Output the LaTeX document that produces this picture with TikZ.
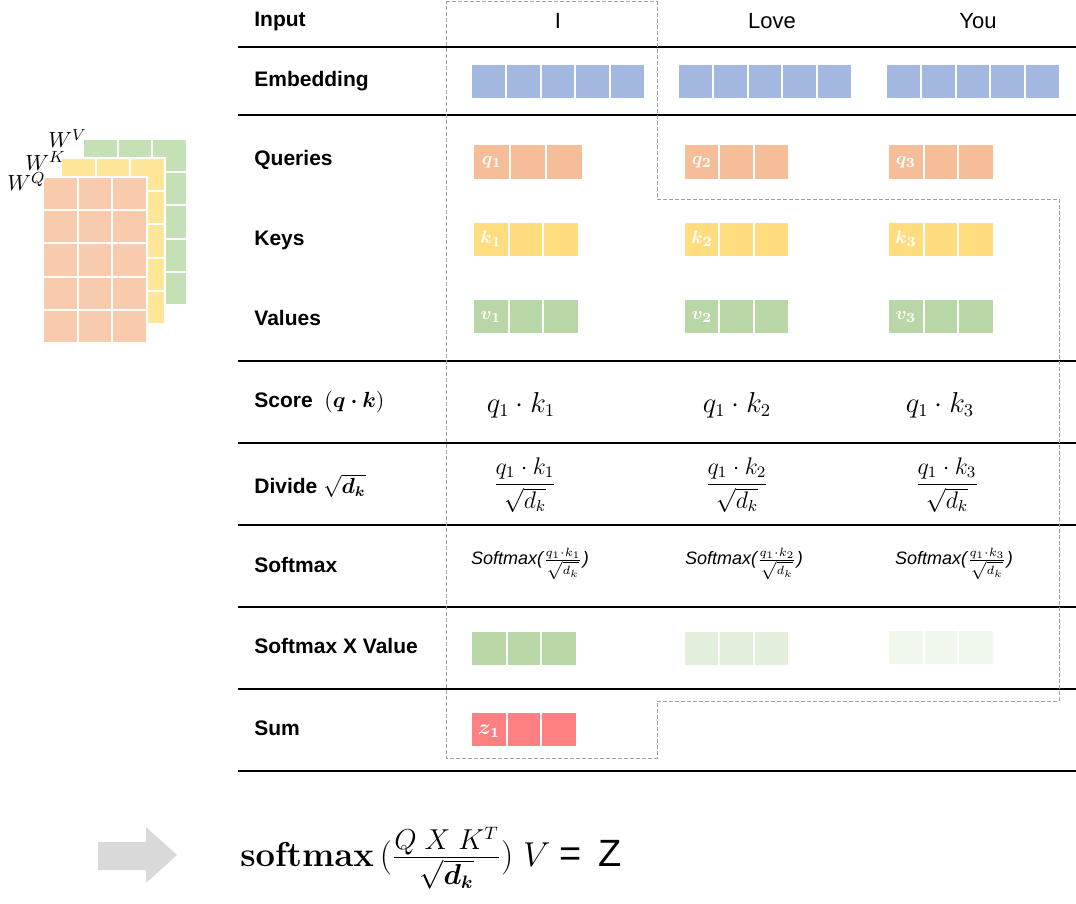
\documentclass[tikz,border=0pt]{standalone}
\usepackage[no-math]{fontspec}
\usepackage{amsmath}
\usepackage{bm}
\setmainfont{Liberation Sans}
\definecolor{emb}{RGB}{163,184,224}
\definecolor{qcol}{RGB}{245,189,152}
\definecolor{kcol}{RGB}{255,220,126}
\definecolor{vcol}{RGB}{185,214,166}
\definecolor{vcolb}{RGB}{226,239,218}
\definecolor{vcolc}{RGB}{240,247,236}
\definecolor{zcol}{RGB}{255,128,128}
\definecolor{wq}{RGB}{248,203,173}
\definecolor{wk}{RGB}{255,230,153}
\definecolor{wv}{RGB}{197,224,180}
\definecolor{arr}{RGB}{217,217,217}
\definecolor{dashgray}{RGB}{160,160,160}
\newcommand{\cellrow}[6]{%
  \fill[#6] (#1,#2) rectangle (#3,#4);
  \pgfmathtruncatemacro{\nm}{#5-1}
  \foreach \i in {1,...,\nm}{\draw[white,line width=1pt] ({#1+\i*(#3-#1)/#5},#2) -- ({#1+\i*(#3-#1)/#5},#4);}
}
\newcommand{\wmat}[3]{% x0 y0 color ; 3 cols x 5 rows, 104 x 166 px
  \filldraw[fill=#3,draw=white,line width=1pt] (#1,#2) rectangle ({#1+104},{#2+166});
  \foreach \i in {1,2}{\draw[white,line width=1pt] ({#1+\i*104/3},#2) -- ({#1+\i*104/3},{#2+166});}
  \foreach \j in {1,...,4}{\draw[white,line width=1pt] (#1,{#2+\j*166/5}) -- ({#1+104},{#2+\j*166/5});}
}
\tikzset{
  lab/.style={anchor=west,inner sep=0pt,font=\bfseries\fontsize{10.5}{12}\selectfont},
  word/.style={inner sep=0pt,font=\fontsize{11}{13}\selectfont},
  mth/.style={inner sep=0pt,font=\fontsize{12}{14}\selectfont},
  mthb/.style={inner sep=0pt,font=\fontsize{13.5}{15}\selectfont},
  smx/.style={inner sep=0pt,font=\itshape\fontsize{9}{10}\selectfont},
  cl/.style={inner sep=0pt,text=white,font=\fontsize{9.5}{10}\selectfont},
  wl/.style={inner sep=0pt,anchor=base west,font=\fontsize{11}{13}\selectfont},
  rule/.style={black,line width=0.7pt},
  outline/.style={dashgray,line width=0.5pt,dash pattern=on 2pt off 1pt},
}
\begin{document}
\begin{tikzpicture}[x=0.5pt,y=-0.5pt]
\useasboundingbox (0,0) rectangle (1076,904);
% left matrices
\wmat{83}{139}{wv}
\wmat{61}{158}{wk}
\wmat{43}{177}{wq}
\node[wl] (lv) at (48,148) {$W^V$};
\node[wl] (lk) at (25,170) {$W^K$};
\node[wl] (lq) at (7,191) {$W^Q$};
% table rules
\foreach \yy in {47,115,361,443,525,607,689,771}{\draw[rule] (238,\yy) -- (1076,\yy);}
% dashed outline
\draw[outline] (446,2) -- (657,2) -- (657,199) -- (1059,199) -- (1059,701) -- (657,701) -- (657,758) -- (446,758) -- cycle;
% row labels
\node[lab] (rinput) at (254,21) {Input};
\node[lab] (remb) at (254,81) {Embedding};
\node[lab] (rq) at (254,160) {Queries};
\node[lab] (rk) at (254,240) {Keys};
\node[lab] (rv) at (254,318) {Values};
\node[lab] (rscore) at (254,402) {Score \ $(\bm{q\cdot k})$};
\node[lab] (rdiv) at (254,486) {Divide $\sqrt{\bm{d_k}}$};
\node[lab] (rsm) at (254,565) {Softmax};
\node[lab] (rsmv) at (254,646) {Softmax X Value};
\node[lab] (rsum) at (254,728) {Sum};
% inputs
\node[word] (w1) at (558,21) {I};
\node[word] (w2) at (772,21) {Love};
\node[word] (w3) at (978,21) {You};
% embeddings
\cellrow{472}{65}{644}{98}{5}{emb}
\cellrow{679}{65}{851}{98}{5}{emb}
\cellrow{887}{65}{1059}{98}{5}{emb}
% queries
\cellrow{474}{145}{582}{179}{3}{qcol}
\cellrow{685}{145}{788}{179}{3}{qcol}
\cellrow{889}{145}{993}{179}{3}{qcol}
\node[cl] (q1) at (492,162) {$\bm{q_1}$};
\node[cl] (q2) at (702,162) {$\bm{q_2}$};
\node[cl] (q3) at (906,162) {$\bm{q_3}$};
% keys
\cellrow{474}{223}{578}{256}{3}{kcol}
\cellrow{685}{223}{788}{256}{3}{kcol}
\cellrow{889}{223}{993}{256}{3}{kcol}
\node[cl] (k1) at (491,239) {$\bm{k_1}$};
\node[cl] (k2) at (702,239) {$\bm{k_2}$};
\node[cl] (k3) at (906,239) {$\bm{k_3}$};
% values
\cellrow{474}{300}{578}{333}{3}{vcol}
\cellrow{685}{300}{788}{333}{3}{vcol}
\cellrow{889}{300}{993}{333}{3}{vcol}
\node[cl] (v1) at (491,317) {$\bm{v_1}$};
\node[cl] (v2) at (702,317) {$\bm{v_2}$};
\node[cl] (v3) at (906,317) {$\bm{v_3}$};
% score
\node[mthb] (s1) at (521,405) {$q_1\cdot k_1$};
\node[mthb] (s2) at (737,405) {$q_1\cdot k_2$};
\node[mthb] (s3) at (940,405) {$q_1\cdot k_3$};
% divide
\node[mth] (d1) at (525,485) {$\dfrac{q_1\cdot k_1}{\sqrt{d_k}}$};
\node[mth] (d2) at (737,485) {$\dfrac{q_1\cdot k_2}{\sqrt{d_k}}$};
\node[mth] (d3) at (947,485) {$\dfrac{q_1\cdot k_3}{\sqrt{d_k}}$};
% softmax
\node[smx] (m1) at (530,564) {Softmax($\frac{q_1\cdot k_1}{\sqrt{d_k}}$)};
\node[smx] (m2) at (744,564) {Softmax($\frac{q_1\cdot k_2}{\sqrt{d_k}}$)};
\node[smx] (m3) at (954,564) {Softmax($\frac{q_1\cdot k_3}{\sqrt{d_k}}$)};
% softmax x value
\cellrow{472}{632}{576}{665}{3}{vcol}
\cellrow{685}{632}{788}{665}{3}{vcolb}
\cellrow{889}{631}{993}{664}{3}{vcolc}
% sum
\cellrow{472}{713}{576}{746}{3}{zcol}
\node[cl,font=\fontsize{10.5}{11}\selectfont] (z1) at (489,731) {$\bm{z_1}$};
% bottom arrow
\fill[arr] (98,842) -- (146,842) -- (146,827) -- (177,855) -- (146,883) -- (146,870) -- (98,870) -- cycle;
\node[inner sep=0pt,anchor=base west,font=\fontsize{19}{22}\selectfont] (formula) at (240,866)
  {$\mathbf{softmax}\,(\frac{Q\;X\;K^T}{\sqrt{\bm{d_k}}})\;V\;$= \,Z};
\end{tikzpicture}
\end{document}
